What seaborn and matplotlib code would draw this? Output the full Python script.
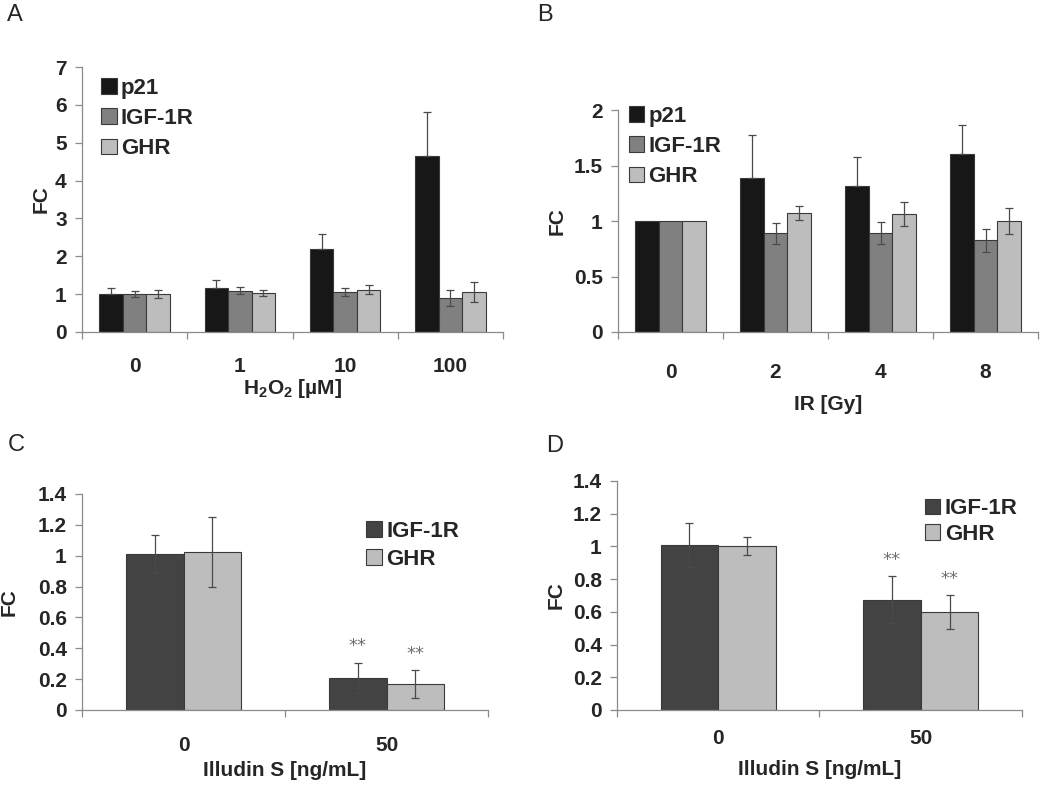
import matplotlib
matplotlib.use("Agg")
import matplotlib.pyplot as plt
from matplotlib.patches import Patch
import seaborn as sns
import pandas as pd
import numpy as np

sns.set_style("ticks")
plt.rcParams['font.family'] = ['Liberation Sans', 'DejaVu Sans']
plt.rcParams['mathtext.fontset'] = 'custom'
plt.rcParams['mathtext.rm'] = 'Liberation Sans:bold'
plt.rcParams['mathtext.bf'] = 'Liberation Sans:bold'

# A: H2O2
h2o2_doses = ["0", "1", "10", "100"]
a_genes = ["p21", "IGF-1R", "GHR"]
a_means = [[1.0, 1.17, 2.19, 4.66],
           [1.0, 1.09, 1.05, 0.90],
           [1.0, 1.03, 1.12, 1.06]]
a_errs = [[0.15, 0.20, 0.41, 1.16],
          [0.08, 0.10, 0.11, 0.22],
          [0.10, 0.08, 0.13, 0.26]]

# B: IR
ir_doses = ["0", "2", "4", "8"]
b_genes = ["p21", "IGF-1R", "GHR"]
b_means = [[1.0, 1.385, 1.32, 1.60],
           [1.0, 0.89, 0.895, 0.825],
           [1.0, 1.073, 1.061, 1.0]]
b_errs = [[0.0, 0.39, 0.26, 0.27],
          [0.0, 0.093, 0.10, 0.10],
          [0.0, 0.06, 0.11, 0.12]]

# C, D: Illudin S
illudin_doses = ["0", "50"]
cd_genes = ["IGF-1R", "GHR"]
c_means = [[1.011, 0.21], [1.022, 0.168]]
c_errs = [[0.12, 0.097], [0.227, 0.088]]
d_means = [[1.01, 0.673], [1.004, 0.598]]
d_errs = [[0.135, 0.143], [0.054, 0.103]]
cd_stars = [[False, True], [False, True]]

abc_colors = ["#171717", "#808080", "#bdbdbd"]
cd_colors = ["#434343", "#bdbdbd"]

AX_GRAY = "#8a8a8a"
ERR_GRAY = "#4a4a4a"
FS = 15
LEG_FS = 16


def panel(ax, cats, genes, means, errs, colors, width, ymax, yticks, ylabels,
          xlabel, legend_xy, labelspacing, stars=None, xpad=14, xlabelpad=2, ylabelpad=4):
    rows = []
    for g, vals in zip(genes, means):
        for c, v in zip(cats, vals):
            rows.append({"dose": c, "FC": v, "gene": g})
    df = pd.DataFrame(rows)
    sns.barplot(data=df, x="dose", y="FC", hue="gene", order=cats, hue_order=genes,
                palette=colors, width=width, edgecolor="#3a3a3a", linewidth=0.8,
                errorbar=None, legend=False, ax=ax)

    for k, (cont, g, err) in enumerate(zip(ax.containers, genes, errs)):
        for j, (bar, e) in enumerate(zip(cont, err)):
            if e == 0:
                continue
            x = bar.get_x() + bar.get_width() / 2
            y = bar.get_height()
            lo = 0 if g == "p21" else e
            ax.errorbar(x, y, yerr=[[lo], [e]], fmt="none", ecolor=ERR_GRAY,
                        elinewidth=0.9, capsize=3, capthick=0.9, zorder=5)
            if stars is not None and stars[k][j]:
                ax.annotate("**", (x, y + e), xytext=(0, 12), textcoords="offset points",
                            ha="center", va="center", fontsize=13, color="#707070",
                            family="DejaVu Sans")

    n = len(cats)
    ax.set_xlim(-0.5, n - 0.5)
    ax.set_ylim(0, ymax)
    ax.set_yticks(yticks)
    ax.set_yticklabels(ylabels, fontsize=FS, fontweight="bold")
    ax.set_xticks(range(n))
    ax.set_xticklabels(cats, fontsize=FS, fontweight="bold")
    ax.set_xticks(np.arange(-0.5, n, 1.0), minor=True)
    ax.tick_params(axis="x", which="major", length=0, pad=xpad)
    ax.tick_params(axis="x", which="minor", length=5, color=AX_GRAY, width=0.9)
    ax.tick_params(axis="y", length=5, color=AX_GRAY, width=0.9, pad=6)
    for s in ["top", "right"]:
        ax.spines[s].set_visible(False)
    for s in ["left", "bottom"]:
        ax.spines[s].set_color(AX_GRAY)
        ax.spines[s].set_linewidth(0.9)
    ax.set_xlabel(xlabel, fontsize=FS, fontweight="bold", labelpad=xlabelpad)
    ax.set_ylabel("FC", fontsize=FS, fontweight="bold", labelpad=ylabelpad)

    handles = [Patch(facecolor=c, edgecolor="#3a3a3a", linewidth=0.8) for c in colors]
    ax.legend(handles, genes, loc="upper left", bbox_to_anchor=legend_xy, frameon=False,
              prop=dict(weight="bold", size=LEG_FS), handlelength=0.7, handleheight=0.7,
              handletextpad=0.2, labelspacing=labelspacing, borderaxespad=0, borderpad=0)


fig = plt.figure(figsize=(10.5, 7.98), dpi=100)
axA = fig.add_axes([0.0781, 0.584, 0.401, 0.332])
axB = fig.add_axes([0.5886, 0.584, 0.40, 0.278])
axC = fig.add_axes([0.0781, 0.1103, 0.3867, 0.2707])
axD = fig.add_axes([0.5876, 0.1103, 0.3857, 0.287])

panel(axA, h2o2_doses, a_genes, a_means, a_errs, abc_colors, 0.67, 7,
      range(8), [str(i) for i in range(8)],
      r"H$_{2}$O$_{2}$ [µM]", (0.045, 0.96), 0.42, xpad=18, xlabelpad=1, ylabelpad=3)
panel(axB, ir_doses, b_genes, b_means, b_errs, abc_colors, 0.67, 2,
      [0, 0.5, 1, 1.5, 2], ["0", "0.5", "1", "1.5", "2"],
      "IR [Gy]", (0.025, 1.02), 0.42, xpad=22, xlabelpad=10, ylabelpad=5)
panel(axC, illudin_doses, cd_genes, c_means, c_errs, cd_colors, 0.57, 1.4,
      [0, 0.2, 0.4, 0.6, 0.8, 1.0, 1.2, 1.4],
      ["0", "0.2", "0.4", "0.6", "0.8", "1", "1.2", "1.4"],
      "Illudin S [ng/mL]", (0.70, 0.875), 0.3, stars=cd_stars, xpad=19, xlabelpad=4,
      ylabelpad=14)
panel(axD, illudin_doses, cd_genes, d_means, d_errs, cd_colors, 0.57, 1.4,
      [0, 0.2, 0.4, 0.6, 0.8, 1.0, 1.2, 1.4],
      ["0", "0.2", "0.4", "0.6", "0.8", "1", "1.2", "1.4"],
      "Illudin S [ng/mL]", (0.76, 0.925), 0.2, stars=cd_stars, xpad=14, xlabelpad=8,
      ylabelpad=5)

for letter, (px, py) in zip("ABCD", [(15, 15), (545, 15), (16, 445), (555, 446)]):
    fig.text(px / 1050, 1 - py / 798, letter, fontsize=17, ha="center", va="center")

fig.savefig("out.png", dpi=100, facecolor="white")
